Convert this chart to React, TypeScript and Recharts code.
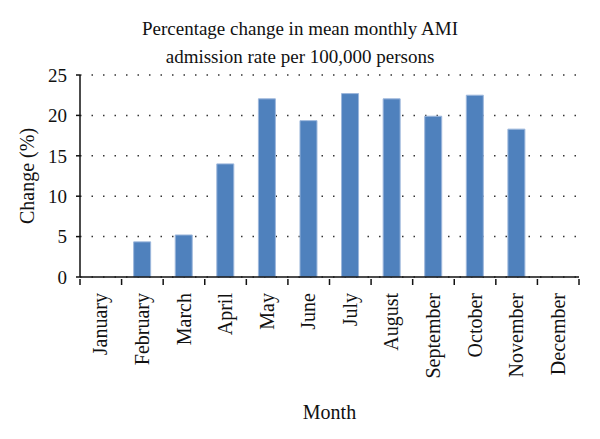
import React from "react";
import { BarChart, Bar, XAxis, YAxis, CartesianGrid } from "recharts";

const months = [
  "January",
  "February",
  "March",
  "April",
  "May",
  "June",
  "July",
  "August",
  "September",
  "October",
  "November",
  "December",
];
const change = [0, 4.35, 5.2, 14.0, 22.05, 19.35, 22.7, 22.05, 19.9, 22.5, 18.3, 0];
const yTicks = [0, 5, 10, 15, 20, 25];

const data = months.map((m, i) => ({ month: m, value: change[i] }));

const FONT = '"Liberation Serif", "DejaVu Serif", serif';

// month label rotated, plus tick marks on the category boundaries
const MonthTick = (props: any) => {
  const { x, y, payload, index, visibleTicksCount } = props;
  const half = payload.offset || 0;
  const last = index === visibleTicksCount - 1;
  return (
    <g>
      <line x1={x - half} x2={x - half} y1={y - 2} y2={y + 4} stroke="#111" strokeWidth={1.5} />
      {last && (
        <line x1={x + half} x2={x + half} y1={y - 2} y2={y + 4} stroke="#111" strokeWidth={1.5} />
      )}
      <text
        x={x}
        y={y}
        transform={`rotate(-90 ${x} ${y})`}
        textAnchor="end"
        dx={-12}
        dy="0.33em"
        fontSize={20}
        fontFamily={FONT}
        fill="#111"
      >
        {payload.value}
      </text>
    </g>
  );
};

export default function App() {
  return (
    <div
      style={{
        position: "absolute",
        left: 0,
        top: 0,
        width: 600,
        height: 439,
        background: "#fff",
        fontFamily: FONT,
      }}
    >
      <div
        style={{
          position: "absolute",
          top: 15,
          left: 0,
          width: 600,
          textAlign: "center",
          fontSize: 19,
          lineHeight: "28px",
          color: "#111",
        }}
      >
        Percentage change in mean monthly AMI
        <br />
        admission rate per 100,000 persons
      </div>
      <BarChart
        width={600}
        height={439}
        data={data}
        margin={{ top: 75, right: 21, left: 0, bottom: 10 }}
        barCategoryGap="29%"
      >
        <CartesianGrid
          vertical={false}
          stroke="#333"
          strokeWidth={1.5}
          strokeDasharray="1.5 10"
        />
        <XAxis
          dataKey="month"
          height={152}
          interval={0}
          tickLine={false}
          tickSize={2}
          axisLine={{ stroke: "#111", strokeWidth: 1.5 }}
          tick={<MonthTick />}
          label={{
            value: "Month",
            position: "insideBottom",
            offset: 10,
            fontSize: 20,
            fontFamily: FONT,
            fill: "#111",
          }}
        />
        <YAxis
          width={80}
          domain={[0, 25]}
          ticks={yTicks}
          interval={0}
          tickSize={4}
          tickMargin={9}
          tick={{ fontSize: 19, fontFamily: FONT, fill: "#111" }}
          tickLine={{ stroke: "#111", strokeWidth: 1.5 }}
          axisLine={{ stroke: "#111", strokeWidth: 1.5 }}
          label={{
            value: "Change (%)",
            angle: -90,
            position: "center",
            dx: -13,
            fontSize: 20,
            fontFamily: FONT,
            fill: "#111",
          }}
        />
        <Bar
          dataKey="value"
          fill="#4F81BD"
          stroke="#9db7dc"
          strokeWidth={1}
          isAnimationActive={false}
        />
      </BarChart>
    </div>
  );
}
